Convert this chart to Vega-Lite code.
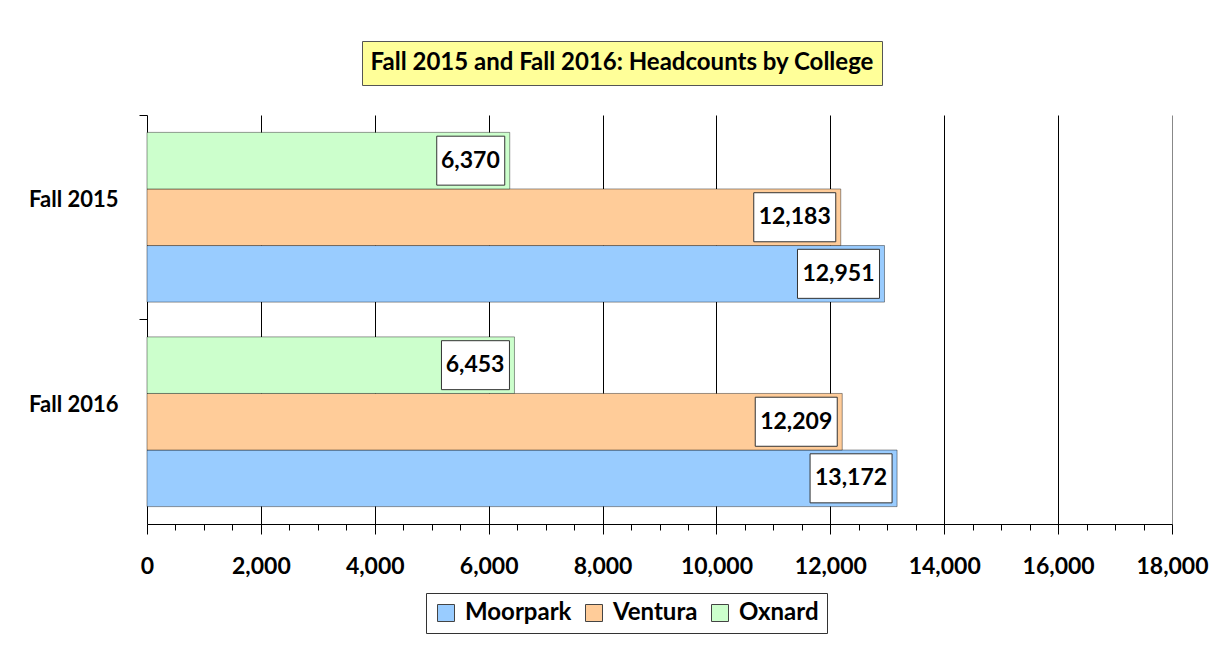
{
  "$schema": "https://vega.github.io/schema/vega-lite/v6.json",
  "background": "white",
  "padding": {"left": 28, "top": 40, "right": 5, "bottom": 5},
  "spacing": 28,
  "config": {
    "font": "Lato",
    "view": {"stroke": null},
    "text": {"font": "Lato"}
  },
  "vconcat": [
    {
      "spacing": 0,
      "hconcat": [
        {
          "width": 214,
          "height": 44,
          "data": {"values": [{"t": ""}]},
          "mark": {"type": "text", "opacity": 0},
          "encoding": {"text": {"field": "t", "type": "nominal"}}
        },
        {
          "width": 520,
          "height": 44,
          "view": {"fill": "#FFFF99", "stroke": "#555555", "strokeWidth": 1},
          "data": {"values": [{"t": "Fall 2015 and Fall 2016: Headcounts by College"}]},
          "mark": {"type": "text", "font": "Lato", "fontWeight": "bold", "fontSize": 24, "color": "black", "baseline": "middle", "align": "center"},
          "encoding": {"text": {"field": "t", "type": "nominal"}}
        }
      ]
    },
    {
      "width": 1025,
      "height": 409,
      "data": {
        "values": [
          {"term": "Fall 2015", "college": "Moorpark", "count": 12951},
          {"term": "Fall 2015", "college": "Ventura", "count": 12183},
          {"term": "Fall 2015", "college": "Oxnard", "count": 6370},
          {"term": "Fall 2016", "college": "Moorpark", "count": 13172},
          {"term": "Fall 2016", "college": "Ventura", "count": 12209},
          {"term": "Fall 2016", "college": "Oxnard", "count": 6453}
        ]
      },
      "encoding": {
        "y": {
          "field": "term", "type": "nominal", "sort": ["Fall 2015", "Fall 2016"],
          "scale": {"paddingInner": 0.17, "paddingOuter": 0.085},
          "axis": {
            "title": null, "bandPosition": 0, "tickOffset": -17.4,
            "tickSize": 8, "tickColor": "black", "domainColor": "black", "domainWidth": 1,
            "labelFont": "Lato", "labelFontWeight": "bold", "labelFontSize": 22, "labelColor": "black",
            "labelPadding": 21, "grid": false
          }
        },
        "yOffset": {
          "field": "college", "type": "nominal", "sort": ["Oxnard", "Ventura", "Moorpark"],
          "scale": {"paddingInner": 0, "paddingOuter": 0}
        },
        "x": {
          "field": "count", "type": "quantitative",
          "scale": {"domain": [0, 18000], "nice": false},
          "axis": {
            "title": null,
            "values": [0, 500, 1000, 1500, 2000, 2500, 3000, 3500, 4000, 4500, 5000, 5500, 6000, 6500, 7000, 7500, 8000, 8500, 9000, 9500, 10000, 10500, 11000, 11500, 12000, 12500, 13000, 13500, 14000, 14500, 15000, 15500, 16000, 16500, 17000, 17500, 18000],
            "labelExpr": "datum.value % 2000 === 0 ? format(datum.value, ',') : ''",
            "labelOverlap": false, "labelFlush": false,
            "grid": true,
            "gridColor": {"condition": {"test": "datum.value === 18000", "value": "#888888"}, "value": "black"},
            "gridOpacity": {"condition": {"test": "datum.value % 2000 === 0 && datum.value > 0", "value": 1}, "value": 0},
            "tickSize": {"condition": {"test": "datum.value % 2000 === 0", "value": 10}, "value": 6},
            "tickColor": "black", "domainColor": "black",
            "labelFont": "Lato", "labelFontWeight": "bold", "labelFontSize": 23, "labelColor": "black",
            "labelPadding": 21
          }
        }
      },
      "layer": [
        {
          "mark": {"type": "bar", "stroke": "black", "strokeOpacity": 0.4, "strokeWidth": 1},
          "encoding": {
            "color": {
              "field": "college", "type": "nominal",
              "scale": {"domain": ["Moorpark", "Ventura", "Oxnard"], "range": ["#99CCFF", "#FFCC99", "#CCFFCC"]},
              "legend": {
                "title": null, "orient": "none", "legendX": 279, "legendY": 552, "direction": "horizontal",
                "strokeColor": "#333333", "fillColor": "white", "padding": 8,
                "symbolType": "square", "symbolSize": 289, "symbolStrokeColor": "#444444", "symbolStrokeWidth": 1,
                "labelFont": "Lato", "labelFontWeight": "bold", "labelFontSize": 24, "labelColor": "black",
                "columnPadding": 10, "symbolOffset": 0, "labelOffset": 7
              }
            }
          }
        },
        {
          "transform": [{"filter": "datum.count >= 10000"}],
          "mark": {"type": "point", "shape": "M-2,-0.598H0V0.598H-2Z", "size": 6724, "filled": true, "fill": "white", "stroke": "#333333", "strokeWidth": 1, "opacity": 1, "xOffset": -5}
        },
        {
          "transform": [{"filter": "datum.count < 10000"}],
          "mark": {"type": "point", "shape": "M-2,-0.72H0V0.72H-2Z", "size": 4624, "filled": true, "fill": "white", "stroke": "#333333", "strokeWidth": 1, "opacity": 1, "xOffset": -5}
        },
        {
          "mark": {"type": "text", "font": "Lato", "fontWeight": "bold", "fontSize": 23, "color": "black", "align": "right", "baseline": "middle", "xOffset": -10},
          "encoding": {"text": {"field": "count", "type": "quantitative", "format": ","}}
        }
      ]
    }
  ]
}
